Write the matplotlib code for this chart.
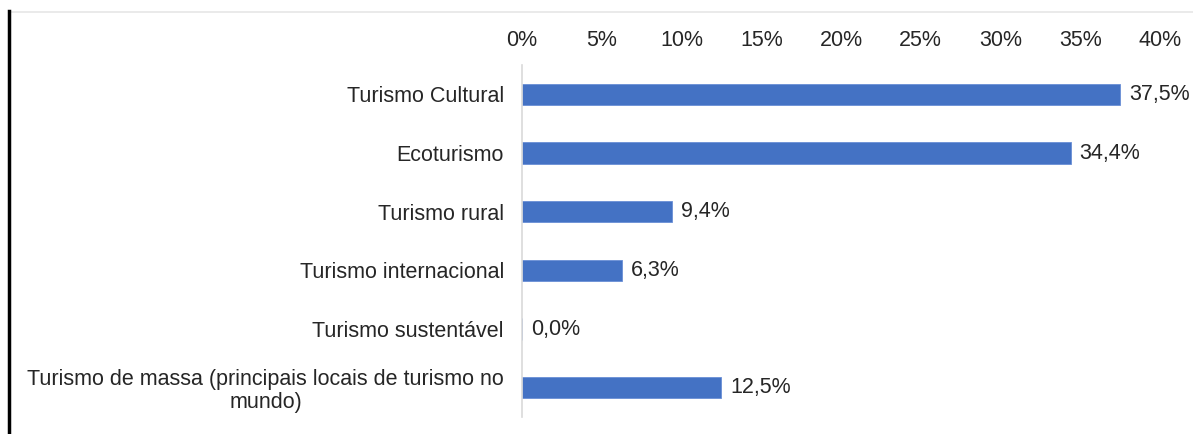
import matplotlib.pyplot as plt
from matplotlib.lines import Line2D

# Daten
categorias = [
    "Turismo Cultural",
    "Ecoturismo",
    "Turismo rural",
    "Turismo internacional",
    "Turismo sustentável",
    "Turismo de massa (principais locais de turismo no\nmundo)",
]
valores = [37.5, 34.4, 9.4, 6.3, 0.0, 12.5]
ticks = [0, 5, 10, 15, 20, 25, 30, 35, 40]

plt.rcParams['font.family'] = ['Liberation Sans', 'DejaVu Sans']
fs = 15.5

fig = plt.figure(figsize=(11.93, 4.34), dpi=100)
ax = fig.add_axes([522 / 1193, 1 - 417 / 434, (1160 - 522) / 1193, (417 - 65) / 434])

y = list(range(len(categorias)))
ax.barh(y, valores, height=0.36, color='#4472C4', edgecolor='#6A8FD6', linewidth=0.6)

for yi, v in zip(y, valores):
    ax.text(v + 0.55, yi, f"{v:.1f}%".replace('.', ','), va='center', ha='left',
            fontsize=fs, color='#262626')

ax.set_ylim(len(categorias) - 0.5, -0.5)
ax.set_xlim(0, 40)
ax.set_yticks(y)
ax.set_yticklabels(categorias, fontsize=fs, color='#262626', multialignment='center',
                   linespacing=1.1)
ax.set_xticks(ticks)
ax.set_xticklabels([f"{t}%" for t in ticks], fontsize=fs, color='#262626')
ax.xaxis.tick_top()
ax.tick_params(axis='x', length=0, pad=10)
ax.tick_params(axis='y', length=0, pad=13)

for s in ['top', 'right', 'bottom']:
    ax.spines[s].set_visible(False)
ax.spines['left'].set_color('#D9D9D9')
ax.spines['left'].set_linewidth(1.2)

# Rand des Screenshots
fig.add_artist(Line2D([10 / 1193, 1], [1 - 12 / 434, 1 - 12 / 434],
                      transform=fig.transFigure, color='#E6E6E6', linewidth=1.2))
fig.add_artist(Line2D([8.5 / 1193, 8.5 / 1193], [0, 1 - 11 / 434],
                      transform=fig.transFigure, color='black', linewidth=2.5))

fig.savefig('out.png', dpi=100)
